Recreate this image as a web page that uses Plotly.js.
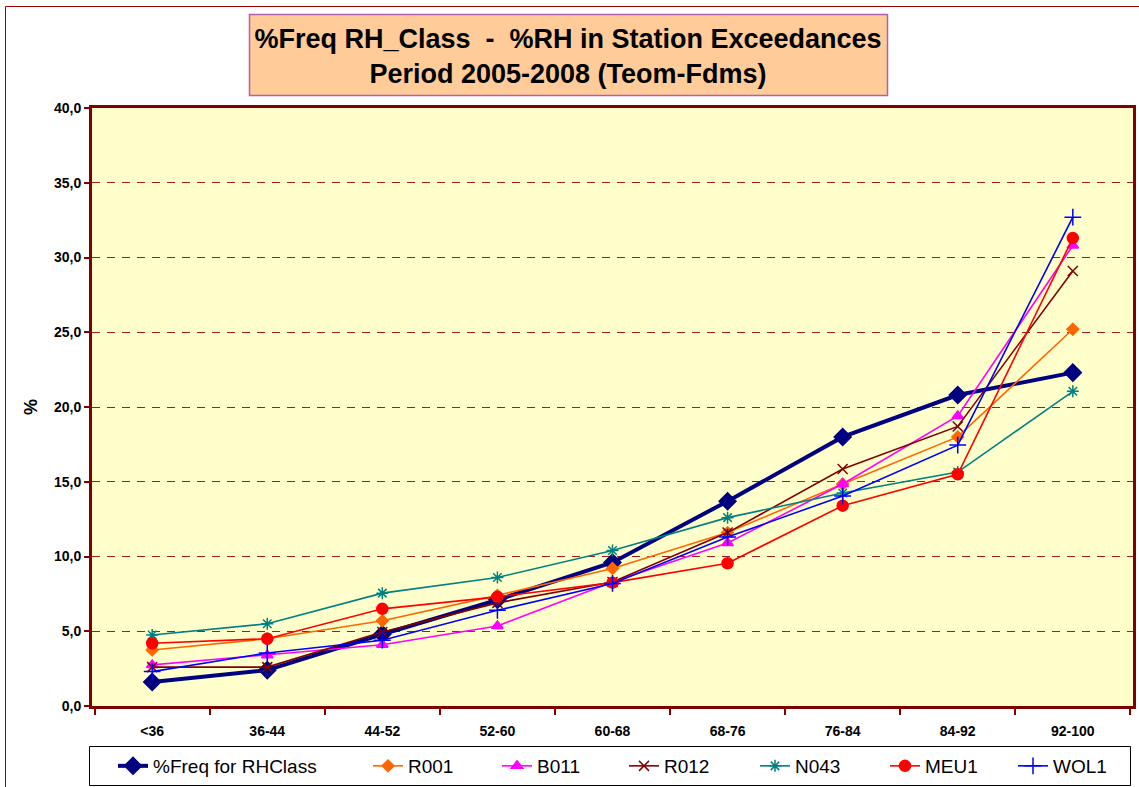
<!DOCTYPE html>
<html>
<head>
<meta charset="utf-8">
<script src="https://cdn.plot.ly/plotly-3.0.1.min.js"></script>
<style>html,body{margin:0;padding:0;background:#fff;}#chart{width:1139px;height:787px;}</style>
</head>
<body>
<div id="chart"></div>
<script>
const categories = ['<36','36-44','44-52','52-60','60-68','68-76','76-84','84-92','92-100'];
const freqRHClass = [1.6, 2.4, 4.8, 7.1, 9.6, 13.7, 18.0, 20.8, 22.3];
const r001 = [3.75, 4.5, 5.7, 7.4, 9.2, 11.6, 14.85, 18.0, 25.2];
const b011 = [2.75, 3.4, 4.1, 5.35, 8.3, 10.9, 14.85, 19.4, 30.8];
const r012 = [2.6, 2.6, 4.95, 6.9, 8.3, 11.6, 15.85, 18.7, 29.1];
const n043 = [4.75, 5.5, 7.55, 8.6, 10.4, 12.6, 14.25, 15.65, 21.05];
const meu1 = [4.2, 4.5, 6.5, 7.3, 8.25, 9.55, 13.4, 15.5, 31.3];
const wol1 = [2.3, 3.55, 4.4, 6.4, 8.2, 11.3, 14.05, 17.45, 32.7];

const seriesNames = ['%Freq for RHClass','R001','B011','R012','N043','MEU1','WOL1'];

const FONT = 'Liberation Sans, Arial, sans-serif';

const L = 92, R = 1133, T = 108, B = 706;
const pw = R - L, ph = B - T;
const px = v => (v - L) / pw;
const py = v => (B - v) / ph;

function tr(name, y, color, lw, symbol, msize, legendId) {
  return {
    x: categories, y: y, name: name, type: 'scatter', mode: 'lines+markers',
    line: {color: color, width: lw},
    marker: {symbol: symbol, size: msize, color: color, line: {color: color, width: 1.5}},
    legend: legendId
  };
}

const data = [
  tr(seriesNames[0], freqRHClass, '#000080', 4, 'diamond', 13, 'legend'),
  tr(seriesNames[1], r001, '#FF6600', 1.6, 'diamond', 9, 'legend2'),
  tr(seriesNames[2], b011, '#FF00FF', 1.6, 'triangle-up', 10, 'legend3'),
  tr(seriesNames[3], r012, '#800000', 1.6, 'x-thin-open', 10, 'legend4'),
  tr(seriesNames[4], n043, '#008080', 1.6, 'asterisk-open', 10, 'legend5'),
  tr(seriesNames[5], meu1, '#FF0000', 1.6, 'circle', 11, 'legend6'),
  tr(seriesNames[6], wol1, '#0000FF', 1.6, 'cross-thin-open', 12, 'legend7')
];

function leg(textX) {
  return {
    orientation: 'h',
    x: px(textX - 40), xanchor: 'left',
    y: py(766), yanchor: 'middle',
    bgcolor: 'rgba(0,0,0,0)', borderwidth: 0,
    font: {family: FONT, size: 19, color: '#000000'},
    itemwidth: 30
  };
}

const layout = {
  width: 1139, height: 787,
  margin: {l: L, r: 1139 - R, t: T, b: 787 - B, pad: 0, autoexpand: false},
  paper_bgcolor: '#FFFFFF',
  plot_bgcolor: '#FFFFCC',
  separators: ',.',
  font: {family: FONT, color: '#000000'},
  showlegend: true,
  title: {
    text: '<b>%Freq RH_Class  -  %RH in Station Exceedances<br>Period 2005-2008 (Teom-Fdms)</b>',
    font: {family: FONT, size: 27, color: '#000000'},
    xref: 'paper', x: px(568), xanchor: 'center',
    yref: 'container', y: 1 - 48 / 787, yanchor: 'middle'
  },
  xaxis: {
    type: 'category',
    tickson: 'boundaries',
    ticks: 'outside', ticklen: 6, tickwidth: 2, tickcolor: '#800000',
    ticklabelstandoff: 10,
    showline: true, mirror: true, linecolor: '#800000', linewidth: 3,
    showgrid: false, zeroline: false,
    tickfont: {family: FONT, size: 14, color: '#000000', weight: 'bold'},
    fixedrange: true
  },
  yaxis: {
    range: [0, 40], dtick: 5, tickformat: '.1f',
    ticks: 'outside', ticklen: 5, tickwidth: 2, tickcolor: '#800000',
    showline: true, mirror: true, linecolor: '#800000', linewidth: 3,
    showgrid: true, gridcolor: '#A01C1C', gridwidth: 1, griddash: '8px,7px',
    zeroline: false,
    tickfont: {family: FONT, size: 14, color: '#000000', weight: 'bold'},
    title: {text: '<b>%</b>', font: {family: FONT, size: 18, color: '#000000'}, standoff: 12},
    fixedrange: true
  },
  legend: leg(153),
  legend2: leg(408),
  legend3: leg(537),
  legend4: leg(664),
  legend5: leg(795),
  legend6: leg(925),
  legend7: leg(1053),
  shapes: [
    {type: 'rect', xref: 'paper', yref: 'paper', x0: px(5.5), x1: px(1145), y0: py(6.5), y1: py(800),
     line: {color: '#990000', width: 1}, fillcolor: 'rgba(0,0,0,0)', layer: 'below'},
    {type: 'rect', xref: 'paper', yref: 'paper', x0: px(249.5), x1: px(887.5), y0: py(14.5), y1: py(95.5),
     line: {color: '#B060B0', width: 1.5}, fillcolor: '#FFCC99', layer: 'above'},
    {type: 'rect', xref: 'paper', yref: 'paper', x0: px(89.5), x1: px(1130.5), y0: py(746.5), y1: py(785.5),
     line: {color: '#000000', width: 1}, fillcolor: '#FFFFFF', layer: 'above'}
  ]
};

Plotly.newPlot('chart', data, layout, {displayModeBar: false, staticPlot: true});
</script>
</body>
</html>
